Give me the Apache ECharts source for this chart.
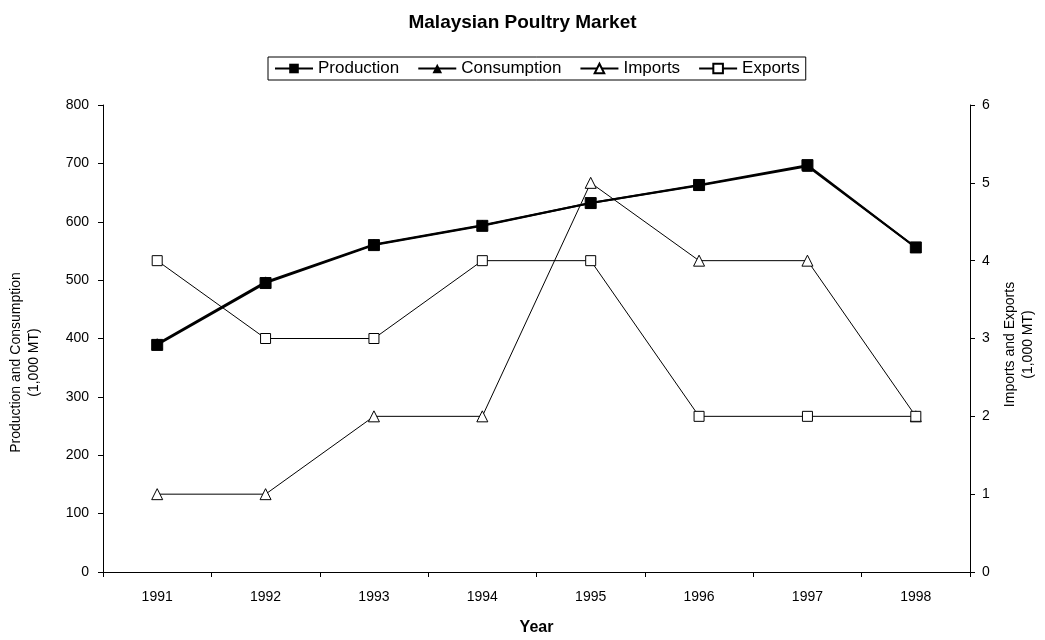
<!DOCTYPE html>
<html lang="en">
<head>
    <meta charset="UTF-8">
    <title>Malaysian Poultry Market</title>
    <script type="text/javascript" src="https://cdn.jsdelivr.net/npm/echarts@6/dist/echarts.min.js"></script>
</head>
<body style="margin:0">
<div id="main" style="width:1045px;height:640px"></div>

<script type="text/javascript">
    var years = ['1991', '1992', '1993', '1994', '1995', '1996', '1997', '1998'];
    var production = [389, 495, 560, 593, 632, 663, 697, 556];
    var consumption = [391, 497, 561, 594, 632, 662, 695, 556];
    var imports = [1, 1, 2, 2, 5, 4, 4, 2];
    var exports = [4, 3, 3, 4, 4, 2, 2, 2];

    var chartDom = document.getElementById('main');
    var myChart = echarts.init(chartDom);
    var font = 'Liberation Sans, Arial, sans-serif';
    var axisLine = {show: true, lineStyle: {color: '#000', width: 1}};

    var option = {
        animation: false,
        backgroundColor: '#fff',
        textStyle: {fontFamily: font, color: '#000'},
        title: {
            text: 'Malaysian Poultry Market',
            left: 'center',
            top: 8,
            textStyle: {fontSize: 19, fontWeight: 'bold', color: '#000', fontFamily: font}
        },
        legend: {
            top: 57,
            left: 268,
            borderColor: '#000',
            borderWidth: 1,
            borderRadius: 0,
            padding: [3, 6],
            itemGap: 18,
            itemWidth: 38,
            itemHeight: 12,
            textStyle: {fontSize: 17, color: '#000', fontFamily: font},
            data: ['Production', 'Consumption', 'Imports', 'Exports']
        },
        grid: {left: 103, right: 75, top: 105, bottom: 68, containLabel: false, outerBoundsMode: 'none'},
        xAxis: {
            type: 'category',
            data: years,
            boundaryGap: true,
            name: 'Year',
            nameLocation: 'middle',
            nameGap: 48,
            nameTextStyle: {fontSize: 16, fontWeight: 'bold', color: '#000'},
            axisLine: axisLine,
            axisTick: {show: true, alignWithLabel: false, length: 5, lineStyle: {color: '#000'}},
            axisLabel: {fontSize: 14, color: '#000', margin: 18},
            splitLine: {show: false}
        },
        yAxis: [{
            type: 'value',
            min: 0,
            max: 800,
            interval: 100,
            position: 'left',
            name: 'Production and Consumption\n(1,000 MT)',
            nameLocation: 'middle',
            nameRotate: 90,
            nameGap: 60,
            nameTextStyle: {fontSize: 14, color: '#000', lineHeight: 18, padding: [0, 48, 0, 0]},
            axisLine: axisLine,
            axisTick: {show: true, inside: false, length: 5, lineStyle: {color: '#000'}},
            axisLabel: {fontSize: 14, color: '#000', margin: 14},
            splitLine: {show: false}
        }, {
            type: 'value',
            min: 0,
            max: 6,
            interval: 1,
            position: 'right',
            name: 'Imports and Exports\n(1,000 MT)',
            nameLocation: 'middle',
            nameRotate: 90,
            nameGap: 31,
            nameTextStyle: {fontSize: 14, color: '#000', lineHeight: 18, padding: [0, 12, 0, 0]},
            axisLine: axisLine,
            axisTick: {show: true, inside: false, length: 5, lineStyle: {color: '#000'}},
            axisLabel: {fontSize: 14, color: '#000', margin: 12},
            splitLine: {show: false}
        }],
        series: [{
            name: 'Production',
            type: 'line',
            data: production,
            yAxisIndex: 0,
            symbol: 'rect',
            symbolSize: 11,
            lineStyle: {color: '#000', width: 2},
            itemStyle: {color: '#000', borderColor: '#000'},
            z: 4
        }, {
            name: 'Consumption',
            type: 'line',
            data: consumption,
            yAxisIndex: 0,
            symbol: 'triangle',
            symbolSize: 10,
            lineStyle: {color: '#000', width: 2},
            itemStyle: {color: '#000', borderColor: '#000'},
            z: 3
        }, {
            name: 'Imports',
            type: 'line',
            data: imports,
            yAxisIndex: 1,
            symbol: 'triangle',
            symbolSize: 11,
            showAllSymbol: true,
            lineStyle: {color: '#000', width: 1},
            itemStyle: {color: '#fff', borderColor: '#000', borderWidth: 1},
            z: 2
        }, {
            name: 'Exports',
            type: 'line',
            data: exports,
            yAxisIndex: 1,
            symbol: 'rect',
            symbolSize: 10,
            showAllSymbol: true,
            lineStyle: {color: '#000', width: 1},
            itemStyle: {color: '#fff', borderColor: '#000', borderWidth: 1},
            z: 2
        }]
    };

    option && myChart.setOption(option);
</script>
</body>
</html>
